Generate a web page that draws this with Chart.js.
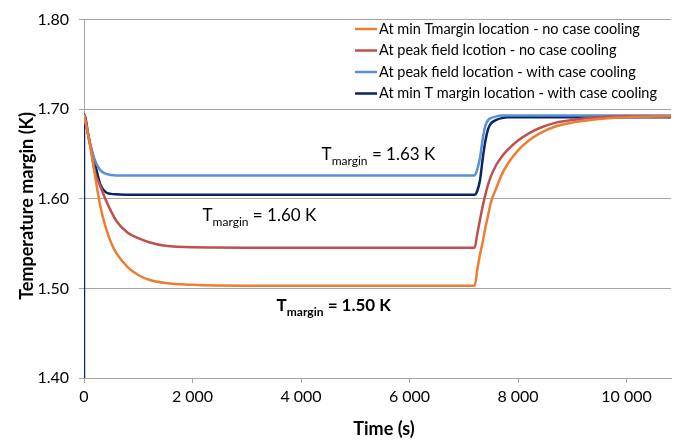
<!DOCTYPE html>
<html>
<head>
<meta charset="utf-8">
<script src="https://cdn.jsdelivr.net/npm/chart.js@4"></script>
<style>
  html, body { margin: 0; padding: 0; background: #ffffff; }
  #c { display: block; }
</style>
</head>
<body>
<canvas id="c" width="676" height="442"></canvas>
<script>
// ---- data ----
const time = [0, 100, 200, 300, 400, 500, 600, 800, 1000, 1200, 1500, 2000, 3000, 4000, 5000, 6000, 7000,
  7200, 7250, 7300, 7350, 7400, 7450, 7500, 7600, 7700, 7800, 8000, 8200, 8400, 8700, 9000, 9500, 10000, 10820];

const orangeNoCooling = [1.694, 1.664, 1.627, 1.592, 1.568, 1.551, 1.539, 1.524, 1.515, 1.5097, 1.506, 1.504, 1.503, 1.503, 1.503, 1.503, 1.503,
  1.503, 1.521, 1.538, 1.552, 1.568, 1.582, 1.596, 1.612, 1.627, 1.638, 1.654, 1.665, 1.673, 1.681, 1.685, 1.689, 1.691, 1.692];

const redNoCooling = [1.694, 1.665, 1.630, 1.614, 1.599, 1.586, 1.575, 1.5625, 1.556, 1.5515, 1.5475, 1.5458, 1.5455, 1.5455, 1.5455, 1.5455, 1.5455,
  1.5455, 1.561, 1.577, 1.592, 1.605, 1.616, 1.625, 1.638, 1.647, 1.654, 1.665, 1.673, 1.679, 1.685, 1.688, 1.691, 1.692, 1.692];

const lightBlueCooling = [1.694, 1.665, 1.643, 1.632, 1.628, 1.6265, 1.626, 1.626, 1.626, 1.626, 1.626, 1.626, 1.626, 1.626, 1.626, 1.626, 1.626,
  1.626, 1.633, 1.646, 1.667, 1.682, 1.688, 1.690, 1.692, 1.693, 1.693, 1.693, 1.693, 1.693, 1.693, 1.693, 1.693, 1.693, 1.693];

const navyCooling = [1.694, 1.664, 1.640, 1.616, 1.6075, 1.6055, 1.605, 1.6045, 1.6045, 1.6045, 1.6045, 1.6045, 1.6045, 1.6045, 1.6045, 1.6045, 1.6045,
  1.6045, 1.609, 1.621, 1.645, 1.665, 1.678, 1.684, 1.688, 1.690, 1.691, 1.691, 1.691, 1.691, 1.691, 1.691, 1.691, 1.691, 1.691];
const navyStartValue = 1.40;   // navy trace starts at the axis bottom at t = 0

const seriesLabels = [
  'At min Tmargin location - no case cooling',
  'At peak field lcotion - no case cooling',
  'At peak field location - with case cooling',
  'At min T margin location - with case cooling'
];
const seriesColors = ['#ED7D31', '#C0504D', '#5B8FD6', '#0A2466'];

const xTickValues = [0, 2000, 4000, 6000, 8000, 10000];
const yTickValues = [1.40, 1.50, 1.60, 1.70, 1.80];

const annotationTexts = ['1.63 K', '1.60 K', '1.50 K'];
const annotationX = [4380, 2185, 3550];
const annotationY = [1.643, 1.5755, 1.4751];
const annotationBold = [false, false, true];

// ---- build datasets ----
function pts(vals) { return time.map((t, i) => ({ x: t, y: vals[i] })); }
const navyPts = [{ x: 0, y: navyStartValue }].concat(pts(navyCooling));

const FONT = 'Lato, "Open Sans", sans-serif';

const datasets = [orangeNoCooling, redNoCooling, lightBlueCooling].map((v, i) => ({
  label: seriesLabels[i], data: pts(v), borderColor: seriesColors[i]
})).concat([{ label: seriesLabels[3], data: navyPts, borderColor: seriesColors[3] }])
  .map(d => Object.assign(d, {
    borderWidth: 2.5, pointRadius: 0, fill: false, cubicInterpolationMode: 'monotone'
  }));

const fmtThousands = v => String(v).replace(/\B(?=(\d{3})+(?!\d))/g, ' ');

const overlayPlugin = {
  id: 'overlay',
  afterDraw(chart) {
    const ctx = chart.ctx;
    const xs = chart.scales.x, ys = chart.scales.y;
    ctx.save();
    // axis titles
    ctx.fillStyle = '#000';
    ctx.font = 'bold 18px ' + FONT;
    ctx.textAlign = 'center';
    ctx.textBaseline = 'middle';
    ctx.fillText('Time (s)', 384, 429);
    ctx.save();
    ctx.translate(27, 206);
    ctx.rotate(-Math.PI / 2);
    ctx.fillText('Temperature margin (K)', 0, 0);
    ctx.restore();

    // legend (inside the plot area, upper right)
    ctx.font = '14.5px ' + FONT;
    ctx.textAlign = 'left';
    ctx.textBaseline = 'middle';
    seriesLabels.forEach((lab, i) => {
      const y = 29 + i * 21.5;
      ctx.strokeStyle = seriesColors[i];
      ctx.lineWidth = 2.5;
      ctx.beginPath(); ctx.moveTo(355, y); ctx.lineTo(377, y); ctx.stroke();
      ctx.fillStyle = '#000';
      ctx.fillText(lab, 379, y);
    });

    // annotations  T_margin = ...
    ctx.textBaseline = 'alphabetic';
    annotationTexts.forEach((txt, i) => {
      let x = xs.getPixelForValue(annotationX[i]);
      const y = ys.getPixelForValue(annotationY[i]);
      const w = annotationBold[i] ? 'bold ' : '';
      ctx.fillStyle = '#000';
      ctx.font = w + '17px ' + FONT;
      ctx.fillText('T', x, y);
      x += ctx.measureText('T').width;
      ctx.font = w + '12px ' + FONT;
      ctx.fillText('margin', x, y + 5);
      x += ctx.measureText('margin').width;
      ctx.font = w + '17px ' + FONT;
      ctx.fillText(' = ' + txt, x, y);
    });
    ctx.restore();
  }
};

new Chart(document.getElementById('c'), {
  type: 'line',
  data: { datasets },
  plugins: [overlayPlugin],
  options: {
    responsive: false,
    animation: false,
    devicePixelRatio: 1,
    layout: { padding: { left: 0, right: 5, top: 16, bottom: 0 } },
    plugins: { legend: { display: false }, tooltip: { enabled: false } },
    scales: {
      x: {
        type: 'linear',
        min: 0, max: 10820,
        afterBuildTicks: s => { s.ticks = xTickValues.map(v => ({ value: v })); },
        afterFit: s => { s.height = 64; },
        border: { display: true, color: '#A6A6A6', width: 1 },
        grid: { display: true, drawOnChartArea: false, drawTicks: true, tickLength: 5, color: '#A6A6A6' },
        ticks: {
          padding: 4,
          color: '#000',
          font: { family: FONT, size: 16 },
          maxRotation: 0,
          callback: v => fmtThousands(v)
        }
      },
      y: {
        min: 1.40, max: 1.80,
        afterBuildTicks: s => { s.ticks = yTickValues.map(v => ({ value: v })); },
        afterFit: s => { s.width = 84; },
        border: { display: true, color: '#A6A6A6', width: 1 },
        grid: { display: true, drawOnChartArea: true, drawTicks: true, tickLength: 5, color: '#A6A6A6' },
        ticks: {
          padding: 10,
          color: '#000',
          font: { family: FONT, size: 16 },
          callback: v => Number(v).toFixed(2)
        }
      }
    }
  }
});
</script>
</body>
</html>
